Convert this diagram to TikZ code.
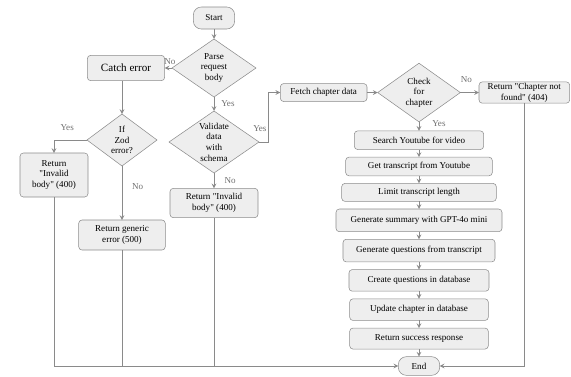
\documentclass[tikz,border=0pt]{standalone}
\usepackage{fontspec}
\setmainfont{Liberation Serif}
\usetikzlibrary{positioning, shapes.geometric}

\definecolor{boxfill}{HTML}{EEEEEE}
\definecolor{boxline}{HTML}{8C8C8C}
\definecolor{flowline}{HTML}{8A8A8A}
\definecolor{labelgray}{HTML}{707070}

\begin{document}
\begin{tikzpicture}[node distance=5.7pt, outer sep=0pt]
    \tikzstyle{startstop} = [rectangle, rounded corners=6pt, minimum width=31pt, minimum height=16.5pt, inner sep=1pt, outer sep=0pt, align=center, draw=boxline, fill=boxfill, font=\fontsize{6.8}{8}\selectfont]
    \tikzstyle{process} = [rectangle, rounded corners=2.5pt, minimum height=14pt, inner sep=0.5pt, outer sep=0pt, align=center, draw=boxline, fill=boxfill, font=\fontsize{6.8}{8}\selectfont]
    \tikzstyle{decision} = [diamond, inner sep=0pt, outer sep=0pt, align=center, draw=boxline, fill=boxfill, font=\fontsize{6.8}{8}\selectfont]
    \tikzstyle{arrow} = [draw=flowline, line width=0.6pt, ->, >=stealth]
    \tikzstyle{link} = [draw=flowline, line width=0.6pt]
    \tikzstyle{lbl} = [text=labelgray, font=\fontsize{6.8}{8}\selectfont, inner sep=0pt]

    \useasboundingbox (0,0) rectangle (428.25pt,-282pt);

    % request parsing
    \node (start) [startstop] at (160.5pt,-13.5pt) {Start};
    \node (parse) [decision, aspect=1.45, minimum width=63pt, minimum height=43.5pt, below=7.5pt of start] {Parse\\request\\body};
    \node (validate) [decision, aspect=1.45, minimum width=67.5pt, minimum height=46.5pt, below=10.5pt of parse] {Validate\\data\\with\\schema};
    \node (invalid2) [process, minimum width=66pt, minimum height=22pt, below=11.5pt of validate] {Return \textquotedbl Invalid\\body\textquotedbl{} (400)};

    % error branch
    \node (catch) [process, minimum width=58pt, minimum height=19pt, left=5.5pt of parse, font=\fontsize{8.3}{10}\selectfont] {Catch error};
    \node (zod) [decision, aspect=1.35, minimum width=52.5pt, minimum height=39pt, below=25pt of catch, xshift=-3pt] {If\\Zod\\error?};
    \node (invalid1) [process, minimum width=51pt, minimum height=33pt, below=9.75pt of zod.west, xshift=-24.75pt] {Return\\\textquotedbl Invalid\\body\textquotedbl{} (400)};
    \node (generic) [process, minimum width=65pt, minimum height=22.5pt, below=40.5pt of zod] {Return generic\\error (500)};

    % chapter branch
    \node (check) [decision, aspect=1.4, minimum width=62pt, minimum height=44pt] at (314.25pt,-69.4pt) {Check\\for\\chapter};
    \node (fetch) [process, minimum width=65pt, minimum height=13.5pt, left=8pt of check] {Fetch chapter data};
    \node (notfound) [process, minimum width=68pt, minimum height=16pt, right=14pt of check] {Return \textquotedbl Chapter not\\found\textquotedbl{} (404)};

    \node (search) [process, minimum width=97pt, below=6.75pt of check] {Search Youtube for video};
    \node (transcript) [process, minimum width=110pt, below=of search] {Get transcript from Youtube};
    \node (limit) [process, minimum width=116pt, minimum height=13.5pt, below=of transcript] {Limit transcript length};
    \node (summary) [process, minimum width=124.5pt, minimum height=17pt, below=of limit] {Generate summary with GPT-4o mini};
    \node (questions) [process, minimum width=114pt, minimum height=17pt, below=of summary] {Generate questions from transcript};
    \node (create) [process, minimum width=105pt, minimum height=16.25pt, below=of questions] {Create questions in database};
    \node (update) [process, minimum width=104pt, minimum height=16.25pt, below=of create] {Update chapter in database};
    \node (success) [process, minimum width=104pt, minimum height=15.75pt, below=of update] {Return success response};
    \node (finish) [startstop, minimum height=14pt, below=of success] {End};

    \draw [arrow] (start) -- (parse);
    \draw [arrow] (parse) -- node[lbl, above=2.5pt, pos=0.3] (noparse) {No} (catch);
    \draw [arrow] (parse) -- node[lbl, right=5.5pt, pos=0.45] (yesparse) {Yes} (validate);
    \draw [arrow] (validate.east) -- node[lbl, above=8pt, pos=0.1] (yesvalid) {Yes} ++(6.75pt,0) |- (fetch.west);
    \draw [arrow] (validate) -- node[lbl, right=8pt, pos=0.5] (novalid) {No} (invalid2);
    \draw [arrow] (catch.south -| zod.north) -- (zod.north);
    \draw [arrow] (zod.west) -| node[lbl, above=7pt, pos=0.3] (yeszod) {Yes} (invalid1.north);
    \draw [arrow] (zod) -- node[lbl, right=7.5pt, pos=0.39] (nozod) {No} (generic);
    \draw [arrow] (fetch) -- (check);
    \draw [arrow] (check) -- node[lbl, above=7.35pt, pos=0.32] (nocheck) {No} (notfound);
    \draw [arrow] (check) -- node[lbl, right=10pt, pos=0.15] (yescheck) {Yes} (search);
    \draw [arrow] (search) -- (transcript);
    \draw [arrow] (transcript) -- (limit);
    \draw [arrow] (limit) -- (summary);
    \draw [arrow] (summary) -- (questions);
    \draw [arrow] (questions) -- (create);
    \draw [arrow] (create) -- (update);
    \draw [arrow] (update) -- (success);
    \draw [arrow] (success) -- (finish);

    % returns into End
    \draw [arrow] (invalid1) |- (finish);
    \draw [link] (generic) -- (generic |- finish);
    \draw [link] (invalid2) -- (invalid2 |- finish);
    \draw [arrow] (notfound) |- (finish);
\end{tikzpicture}
\end{document}
